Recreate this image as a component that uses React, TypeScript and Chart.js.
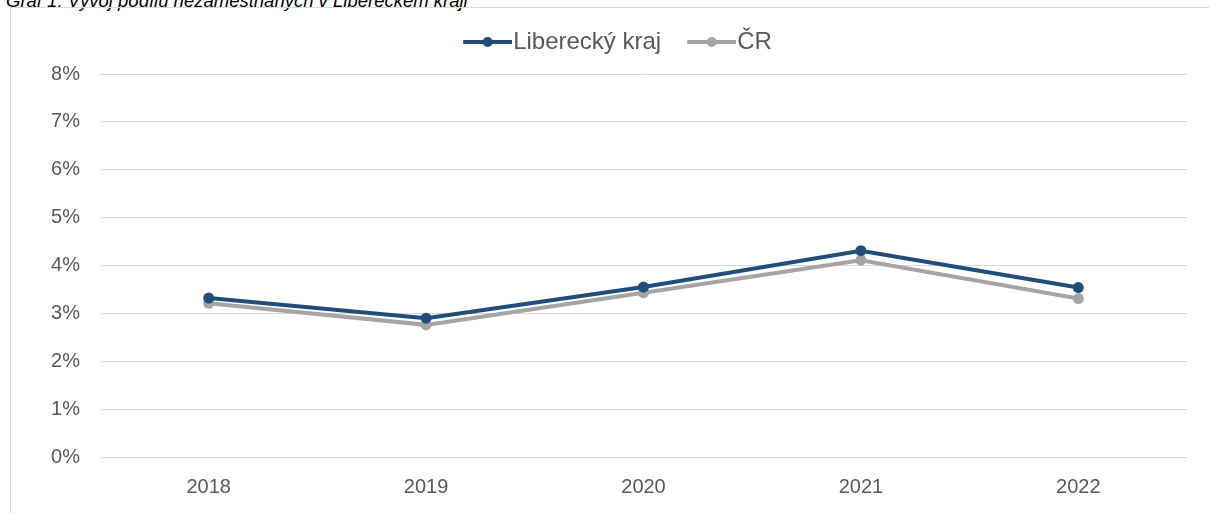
import React, { useEffect, useRef } from "react";
import { Chart, registerables } from "chart.js";

Chart.register(...registerables);

const titleText = "Graf 1: Vývoj podílu nezaměstnaných v Libereckém kraji";
const years = ["2018", "2019", "2020", "2021", "2022"];
const seriesNames = ["Liberecký kraj", "ČR"];
const liberec = [3.32, 2.9, 3.55, 4.31, 3.54];
const cr = [3.21, 2.76, 3.43, 4.11, 3.31];
const yTicks = [0, 1, 2, 3, 4, 5, 6, 7, 8];

const BLUE = "#1F4E79";
const GRAY = "#A5A5A5";
const FONT = "'Liberation Sans', Arial, sans-serif";

function legendIcon(color: string): HTMLCanvasElement {
  // 60px wide image: transparent left 11px, line over the remaining 49px, dot in its middle
  const c = document.createElement("canvas");
  c.width = 60;
  c.height = 12;
  const ctx = c.getContext("2d")!;
  ctx.strokeStyle = color;
  ctx.lineWidth = 4;
  ctx.beginPath();
  ctx.moveTo(11, 6);
  ctx.lineTo(60, 6);
  ctx.stroke();
  ctx.fillStyle = color;
  ctx.beginPath();
  ctx.arc(35.5, 6, 5, 0, Math.PI * 2);
  ctx.fill();
  return c;
}

const legendSpacer = {
  id: "legendSpacer",
  afterInit(chart: any) {
    const lg = chart.legend;
    if (lg) {
      const origFit = lg.fit;
      lg.fit = function () {
        origFit.call(this);
        this.height += 10;
      };
    }
  },
};

export default function App() {
  const ref = useRef<HTMLCanvasElement | null>(null);

  useEffect(() => {
    if (!ref.current) return;
    const icons = [legendIcon(BLUE), legendIcon(GRAY)];
    const chart = new Chart(ref.current, {
      type: "line",
      data: {
        labels: years,
        datasets: [
          {
            label: seriesNames[0],
            data: liberec,
            borderColor: BLUE,
            backgroundColor: BLUE,
            pointBackgroundColor: BLUE,
            pointBorderColor: BLUE,
            borderWidth: 4,
            pointRadius: 5.5,
            pointBorderWidth: 0,
            pointStyle: "circle",
            tension: 0,
          },
          {
            label: seriesNames[1],
            data: cr,
            borderColor: GRAY,
            backgroundColor: GRAY,
            pointBackgroundColor: GRAY,
            pointBorderColor: GRAY,
            borderWidth: 4,
            pointRadius: 5.5,
            pointBorderWidth: 0,
            pointStyle: "circle",
            tension: 0,
          },
        ],
      },
      plugins: [legendSpacer],
      options: {
        animation: false,
        responsive: false,
        maintainAspectRatio: false,
        layout: { padding: { left: 48, right: 22, top: 4, bottom: 0 } },
        plugins: {
          tooltip: { enabled: false },
          legend: {
            display: true,
            position: "top",
            labels: {
              usePointStyle: true,
              pointStyleWidth: 38,
              padding: 26,
              color: "#595959",
              font: { family: FONT, size: 24 },
              generateLabels: (chart: any) =>
                chart.data.datasets.map((ds: any, i: number) => ({
                  text: ds.label,
                  fillStyle: ds.borderColor,
                  strokeStyle: ds.borderColor,
                  fontColor: "#595959",
                  lineWidth: 0,
                  pointStyle: icons[i],
                  hidden: false,
                  datasetIndex: i,
                })),
            },
          },
        },
        scales: {
          x: {
            offset: true,
            grid: { display: false },
            border: { display: false },
            ticks: {
              color: "#595959",
              padding: 10,
              font: { family: FONT, size: 20 },
            },
            afterFit: (s: any) => {
              s.height = 56;
            },
          },
          y: {
            min: 0,
            max: 8,
            grid: { color: "#D9D9D9", lineWidth: 1, drawTicks: false },
            border: { display: false },
            afterBuildTicks: (s: any) => {
              s.ticks = yTicks.map((v) => ({ value: v }));
            },
            ticks: {
              color: "#595959",
              padding: 20,
              font: { family: FONT, size: 20 },
              callback: (v: any) => v + "%",
            },
            afterFit: (s: any) => {
              s.width = 52;
            },
          },
        },
      },
    });
    return () => chart.destroy();
  }, []);

  return (
    <div
      style={{
        position: "fixed",
        left: 0,
        top: 0,
        width: 1209,
        height: 513,
        overflow: "hidden",
        background: "#fff",
      }}
    >
      <div
        style={{
          position: "absolute",
          left: 6,
          top: -10,
          fontFamily: FONT,
          fontStyle: "italic",
          fontSize: 18.5,
          color: "#000",
          whiteSpace: "nowrap",
        }}
      >
        {titleText}
      </div>
      <div
        style={{
          position: "absolute",
          left: 10,
          top: 7,
          width: 1300,
          height: 600,
          border: "1px solid #D9D9D9",
        }}
      />
      <canvas
        ref={ref}
        width={1209}
        height={513}
        style={{ position: "absolute", left: 0, top: 0, width: 1209, height: 513 }}
      />
    </div>
  );
}
